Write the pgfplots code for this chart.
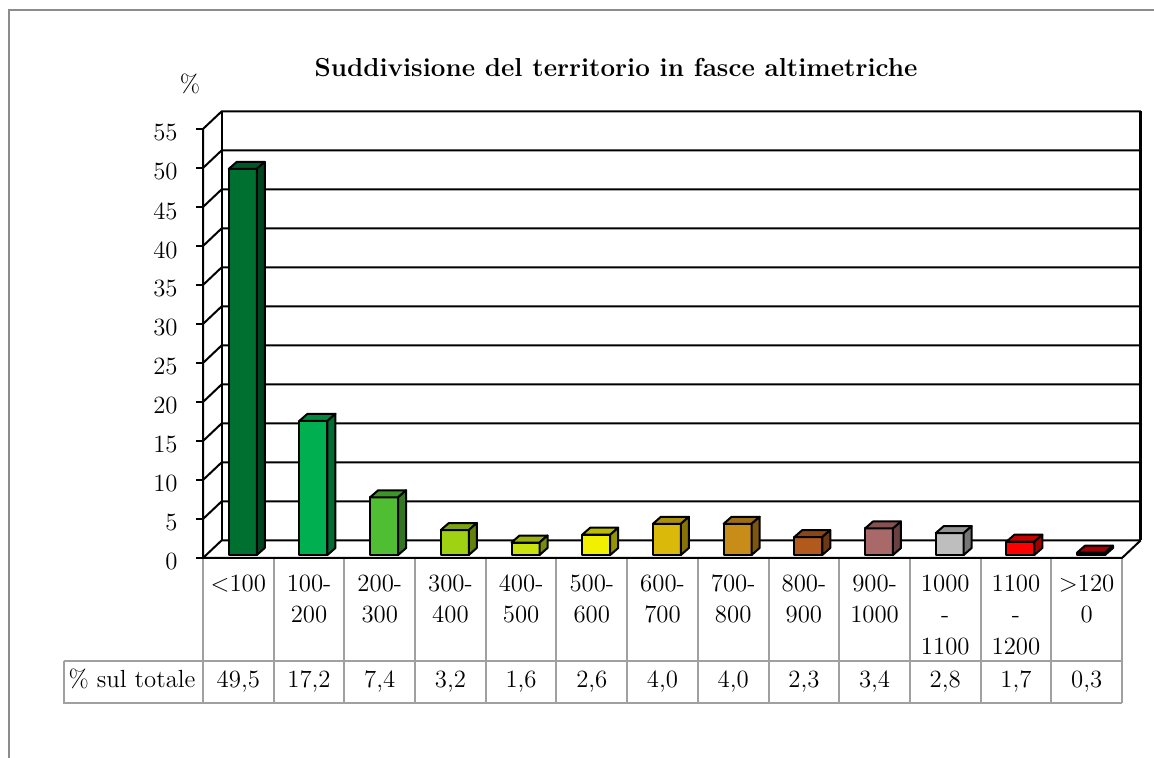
\documentclass[border=0pt]{standalone}
\usepackage{fontspec}
\usepackage{pgfplots}
\pgfplotsset{compat=1.18}
\definecolor{gridgray}{RGB}{160,160,160}
\definecolor{framegray}{RGB}{140,140,140}
\definecolor{c1}{RGB}{0,112,48}
\definecolor{c2}{RGB}{0,176,80}
\definecolor{c3}{RGB}{80,190,50}
\definecolor{c4}{RGB}{160,210,20}
\definecolor{c5}{RGB}{200,225,15}
\definecolor{c6}{RGB}{240,240,0}
\definecolor{c7}{RGB}{218,185,10}
\definecolor{c8}{RGB}{200,140,25}
\definecolor{c9}{RGB}{178,90,30}
\definecolor{c10}{RGB}{170,105,105}
\definecolor{c11}{RGB}{190,190,190}
\definecolor{c12}{RGB}{255,0,0}
\definecolor{c13}{RGB}{200,0,0}
\newcommand{\tf}{\fontsize{12.4}{14}\selectfont}
\pgfplotsset{
  bar3d/.style={
    only marks, scatter, mark=text, text mark={},
    visualization depends on={rawy \as \rawy},
    scatter/@pre marker code/.code={
      \pgfmathsetmacro\yb{1.5-\rawy*3.9}
      \pgfmathsetmacro\ybb{\yb+3.5}
      \filldraw[fill=#1, draw=black, line width=1pt, line join=round] (-4.8pt,\yb pt) rectangle (9.2pt,1.5pt);
      \filldraw[fill=#1!78!black, draw=black, line width=1pt, line join=round] (-4.8pt,1.5pt) -- (9.2pt,1.5pt) -- (13.2pt,5pt) -- (-0.8pt,5pt) -- cycle;
      \filldraw[fill=#1!62!black, draw=black, line width=1pt, line join=round] (9.2pt,1.5pt) -- (13.2pt,5pt) -- (13.2pt,\ybb pt) -- (9.2pt,\yb pt) -- cycle;
    },
    scatter/@post marker code/.code={},
  }
}
\begin{document}
\begin{tikzpicture}
\path[use as bounding box] (0,0) rectangle (577pt,379pt);
\draw[framegray, line width=1pt] (4.25pt,0) -- (4.25pt,374pt) -- (577pt,374pt);
\begin{axis}[
  at={(101.5pt,100pt)}, anchor=south west,
  scale only axis, width=459.5pt, height=214.5pt,
  xmin=-0.5, xmax=12.5, ymin=0, ymax=55,
  clip=false,
  axis line style={draw=none},
  xtick=\empty, ytick={0,5,...,55}, ytick pos=left,
  tick align=outside, major tick length=3.5pt,
  ytick style={draw=black, line width=1pt},
  yticklabel style={anchor=east, inner sep=0pt, xshift=-9pt, yshift=-2pt, font=\tf},
  /pgf/number format/assume math mode=true,
]
\pgfplotsinvokeforeach{0,5,...,55}{
  \draw[line width=1pt] (axis cs:-0.5,#1) -- (axis cs:-0.235,{#1+2.27}) -- (axis cs:12.765,{#1+2.27});
}
\draw[line width=1pt] (axis cs:-0.235,2.27) -- (axis cs:-0.235,57.27);
\draw[line width=1.4pt] (axis cs:12.765,2.27) -- (axis cs:12.765,57.27);
\draw[line width=1pt] (axis cs:-0.5,55) -- (axis cs:-0.5,0) -- (axis cs:12.5,0) -- (axis cs:12.765,2.27);
\addplot[bar3d=c1] coordinates {(0,49.5)};
\addplot[bar3d=c2] coordinates {(1,17.2)};
\addplot[bar3d=c3] coordinates {(2,7.4)};
\addplot[bar3d=c4] coordinates {(3,3.2)};
\addplot[bar3d=c5] coordinates {(4,1.6)};
\addplot[bar3d=c6] coordinates {(5,2.6)};
\addplot[bar3d=c7] coordinates {(6,4.0)};
\addplot[bar3d=c8] coordinates {(7,4.0)};
\addplot[bar3d=c9] coordinates {(8,2.3)};
\addplot[bar3d=c10] coordinates {(9,3.4)};
\addplot[bar3d=c11] coordinates {(10,2.8)};
\addplot[bar3d=c12] coordinates {(11,1.7)};
\addplot[bar3d=c13] coordinates {(12,0.3)};
\end{axis}
\begin{scope}[x=0.5pt,y=-0.5pt,shift={(0pt,379pt)}]
  \node[anchor=base, font=\fontsize{13}{15}\selectfont\bfseries, inner sep=0pt] at (616,77) {Suddivisione del territorio in fasce altimetriche};
  \node[anchor=base, font=\tf, inner sep=0pt] at (190,93) {\%};
  % table lines
  \draw[gridgray, line width=1pt] (64,661) -- (1122,661);
  \draw[gridgray, line width=1pt] (64,661) -- (64,703) -- (1122,703);
  \foreach \k in {0,...,13} {
    \pgfmathsetmacro\xx{203+70.69*\k}
    \draw[gridgray, line width=1pt] (\xx,559) -- (\xx,703);
  }
  \node[anchor=base, font=\tf, inner sep=0pt] at (132,688) {\% sul totale};
  \foreach \i/\a/\b/\c/\v in {0/{<100}/{}/{}/{49,5}, 1/{100-}/{200}/{}/{17,2}, 2/{200-}/{300}/{}/{7,4}, 3/{300-}/{400}/{}/{3,2}, 4/{400-}/{500}/{}/{1,6}, 5/{500-}/{600}/{}/{2,6}, 6/{600-}/{700}/{}/{4,0}, 7/{700-}/{800}/{}/{4,0}, 8/{800-}/{900}/{}/{2,3}, 9/{900-}/{1000}/{}/{3,4}, 10/{1000}/{-}/{1100}/{2,8}, 11/{1100}/{-}/{1200}/{1,7}, 12/{>120}/{0}/{}/{0,3}} {
    \pgfmathsetmacro\xc{203+70.69*(\i+0.5)}
    \node[anchor=base, font=\tf, inner sep=0pt] at (\xc,591.5) {\a};
    \node[anchor=base, font=\tf, inner sep=0pt] at (\xc,623) {\b};
    \node[anchor=base, font=\tf, inner sep=0pt] at (\xc,655) {\c};
    \node[anchor=base, font=\tf, inner sep=0pt] at (\xc,688) {\v};
  }
\end{scope}
\end{tikzpicture}
\end{document}
